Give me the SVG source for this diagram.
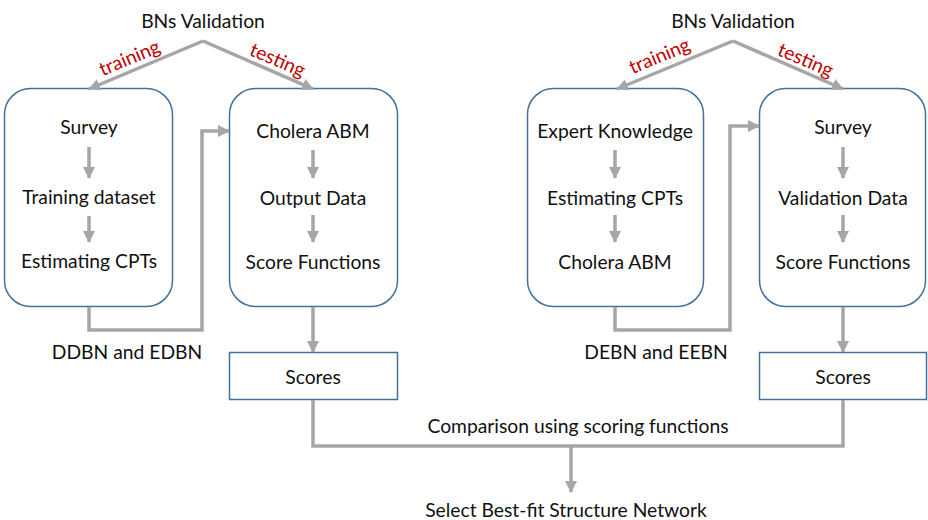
<svg xmlns="http://www.w3.org/2000/svg" width="928" height="520" viewBox="0 0 928 520">
  <defs>
    <marker id="head" markerUnits="userSpaceOnUse" markerWidth="12" markerHeight="12" viewBox="0 0 12 12" refX="11" refY="6" orient="auto">
      <path d="M0,0 L12,6 L0,12 Z" fill="#A6A6A6"/>
    </marker>
    <style>
      text { font-family: "Lato", "Liberation Sans", sans-serif; font-size: 19.3px; fill: #111; text-anchor: middle; }
      .red { fill: #C00000; }
      .box { fill: #fff; stroke: #41719C; stroke-width: 1.5; }
      .conn { fill: none; stroke: #A6A6A6; stroke-width: 3.5; }
      .arr { marker-end: url(#head); }
    </style>
  </defs>

  <!-- process boxes -->
  <g id="box-left-train">
    <rect class="box" x="4.5" y="88.5" width="168" height="218" rx="26"/>
    <text x="89" y="134">Survey</text>
    <text x="89" y="204">Training dataset</text>
    <text x="89" y="268">Estimating CPTs</text>
  </g>
  <g id="box-left-test">
    <rect class="box" x="229.5" y="88.5" width="168" height="218" rx="26"/>
    <text x="313" y="138">Cholera ABM</text>
    <text x="313" y="205">Output Data</text>
    <text x="313" y="269">Score Functions</text>
  </g>
  <g id="box-right-train">
    <rect class="box" x="527.5" y="88.5" width="176" height="218" rx="26"/>
    <text x="615" y="138">Expert Knowledge</text>
    <text x="615" y="205">Estimating CPTs</text>
    <text x="615" y="269">Cholera ABM</text>
  </g>
  <g id="box-right-test">
    <rect class="box" x="759.5" y="88.5" width="166" height="218" rx="26"/>
    <text x="843" y="134">Survey</text>
    <text x="843" y="205">Validation Data</text>
    <text x="843" y="269">Score Functions</text>
  </g>
  <g id="scores-left">
    <rect class="box" x="229.5" y="352.5" width="168" height="47"/>
    <text x="313" y="384">Scores</text>
  </g>
  <g id="scores-right">
    <rect class="box" x="759.5" y="352.5" width="167" height="47"/>
    <text x="843" y="384">Scores</text>
  </g>

  <!-- free labels -->
  <g id="labels">
    <text x="203" y="28">BNs Validation</text>
    <text x="733" y="28">BNs Validation</text>
    <text class="red" transform="translate(132,64) rotate(-22.6)">training</text>
    <text class="red" transform="translate(275,66) rotate(23)">testing</text>
    <text class="red" transform="translate(662,62) rotate(-22.6)">training</text>
    <text class="red" transform="translate(803,66) rotate(23)">testing</text>
    <text x="127" y="359">DDBN and EDBN</text>
    <text x="656" y="359">DEBN and EEBN</text>
    <text x="578" y="433">Comparison using scoring functions</text>
    <text x="566" y="517">Select Best-fit Structure Network</text>
  </g>

  <!-- connectors -->
  <g id="connectors">
    <path class="conn arr" d="M203,41 L89,89"/>
    <path class="conn arr" d="M203,41 L313,89"/>
    <path class="conn arr" d="M733,41 L617,89"/>
    <path class="conn arr" d="M733,41 L843,89"/>

    <path class="conn arr" d="M89,147 L89,178"/>
    <path class="conn arr" d="M89,216 L89,242"/>
    <path class="conn arr" d="M313,150 L313,178"/>
    <path class="conn arr" d="M313,215 L313,242"/>
    <path class="conn arr" d="M615,150 L615,178"/>
    <path class="conn arr" d="M615,215 L615,242"/>
    <path class="conn arr" d="M843,147 L843,178"/>
    <path class="conn arr" d="M843,215 L843,242"/>

    <path class="conn arr" d="M89,307 L89,330 L202,330 L202,131 L229,131"/>
    <path class="conn arr" d="M615,307 L615,330 L730,330 L730,126 L759,126"/>

    <path class="conn arr" d="M313,307 L313,352"/>
    <path class="conn arr" d="M843,307 L843,352"/>

    <path class="conn" d="M313,400 L313,446 L843,446 L843,400"/>
    <path class="conn arr" d="M571,446 L571,492"/>
  </g>
</svg>
